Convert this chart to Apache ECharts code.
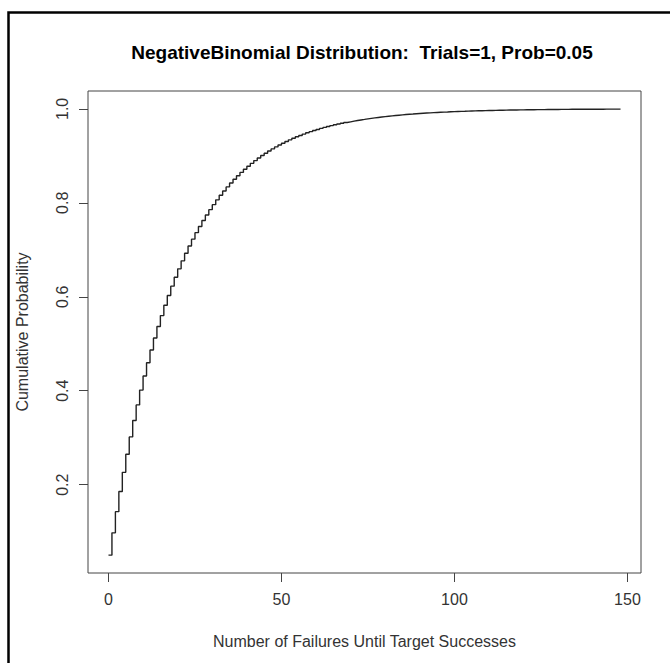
<!DOCTYPE html>
<html>
<head>
<meta charset="utf-8">
<script src="https://cdn.jsdelivr.net/npm/echarts@6/dist/echarts.min.js"></script>
<style>html,body{margin:0;padding:0;background:#fff}#c{width:670px;height:663px}</style>
</head>
<body>
<div id="c"></div>
<script>
var chartTitle = 'NegativeBinomial Distribution:  Trials=1, Prob=0.05';
var xTitle = 'Number of Failures Until Target Successes';
var yTitle = 'Cumulative Probability';
var xTicks = [0, 50, 100, 150];
var yTicks = [0.2, 0.4, 0.6, 0.8, 1.0];
var failures = [0,1,2,3,4,5,6,7,8,9,10,11,12,13,14,15,16,17,18,19,20,21,22,23,24,25,26,27,28,29,30,31,32,33,34,35,36,37,38,39,40,41,42,43,44,45,46,47,48,49,50,51,52,53,54,55,56,57,58,59,60,61,62,63,64,65,66,67,68,69,70,71,72,73,74,75,76,77,78,79,80,81,82,83,84,85,86,87,88,89,90,91,92,93,94,95,96,97,98,99,100,101,102,103,104,105,106,107,108,109,110,111,112,113,114,115,116,117,118,119,120,121,122,123,124,125,126,127,128,129,130,131,132,133,134,135,136,137,138,139,140,141,142,143,144,145,146,147,148];
var cumProb = [0.05,0.0975,0.1426,0.1855,0.2262,0.2649,0.3017,0.3366,0.3698,0.4013,0.4312,0.4596,0.4867,0.5123,0.5367,0.5599,0.5819,0.6028,0.6226,0.6415,0.6594,0.6765,0.6926,0.7080,0.7226,0.7365,0.7497,0.7622,0.7741,0.7854,0.7961,0.8063,0.8160,0.8252,0.8339,0.8422,0.8501,0.8576,0.8647,0.8715,0.8779,0.8840,0.8898,0.8953,0.9006,0.9055,0.9103,0.9147,0.9190,0.9231,0.9269,0.9306,0.9340,0.9373,0.9405,0.9434,0.9463,0.9490,0.9515,0.9539,0.9562,0.9584,0.9605,0.9625,0.9644,0.9661,0.9678,0.9694,0.9710,0.9724,0.9738,0.9751,0.9764,0.9775,0.9787,0.9797,0.9807,0.9817,0.9826,0.9835,0.9843,0.9851,0.9858,0.9865,0.9872,0.9879,0.9885,0.9890,0.9896,0.9901,0.9906,0.9911,0.9915,0.9919,0.9923,0.9927,0.9931,0.9934,0.9938,0.9941,0.9944,0.9947,0.9949,0.9952,0.9954,0.9956,0.9959,0.9961,0.9963,0.9965,0.9966,0.9968,0.9970,0.9971,0.9973,0.9974,0.9975,0.9976,0.9978,0.9979,0.9980,0.9981,0.9982,0.9983,0.9984,0.9984,0.9985,0.9986,0.9987,0.9987,0.9988,0.9989,0.9989,0.9990,0.9990,0.9991,0.9991,0.9992,0.9992,0.9992,0.9993,0.9993,0.9993,0.9994,0.9994,0.9994,0.9995,0.9995,0.9995];

var FONT = 'Liberation Sans, Arial, sans-serif';
var chart = echarts.init(document.getElementById('c'), null, {renderer: 'svg'});
var pts = failures.map(function (x, i) { return [x, cumProb[i]]; });
chart.setOption({
  animation: false,
  backgroundColor: '#fff',
  grid: {left: 88, top: 91, right: 29, bottom: 90, show: true, borderColor: '#444', borderWidth: 1, backgroundColor: 'transparent'},
  graphic: [
    {type: 'rect', shape: {x: 8.5, y: 12.5, width: 700, height: 700}, style: {fill: 'none', stroke: '#000', lineWidth: 2.5}, silent: true},
    {type: 'text', x: 362, y: 52, style: {text: chartTitle, font: 'bold 19px ' + FONT, fill: '#000', align: 'center', verticalAlign: 'middle'}}
  ],
  xAxis: {
    type: 'value', min: -5.92, max: 153.92,
    name: xTitle, nameLocation: 'middle', nameGap: 60,
    nameTextStyle: {fontFamily: FONT, fontSize: 16, color: '#333'},
    axisLine: {show: false, onZero: false},
    splitLine: {show: false},
    axisTick: {show: true, inside: false, length: 9, customValues: xTicks, lineStyle: {color: '#444'}},
    axisLabel: {customValues: xTicks, margin: 18, fontFamily: FONT, fontSize: 16, color: '#333'}
  },
  yAxis: {
    type: 'value', min: 0.012, max: 1.038,
    name: yTitle, nameLocation: 'middle', nameGap: 58, nameRotate: 90,
    nameTextStyle: {fontFamily: FONT, fontSize: 16, color: '#333'},
    axisLine: {show: false, onZero: false},
    splitLine: {show: false},
    axisTick: {show: true, inside: false, length: 9, customValues: yTicks, lineStyle: {color: '#444'}},
    axisLabel: {customValues: yTicks, rotate: 90, margin: 18, fontFamily: FONT, fontSize: 16, color: '#333',
      formatter: function (v) { return v.toFixed(1); }}
  },
  series: [{
    type: 'line', step: 'end', data: pts, showSymbol: false, symbol: 'none',
    lineStyle: {color: '#222', width: 1.4}
  }]
});
</script>
</body>
</html>
